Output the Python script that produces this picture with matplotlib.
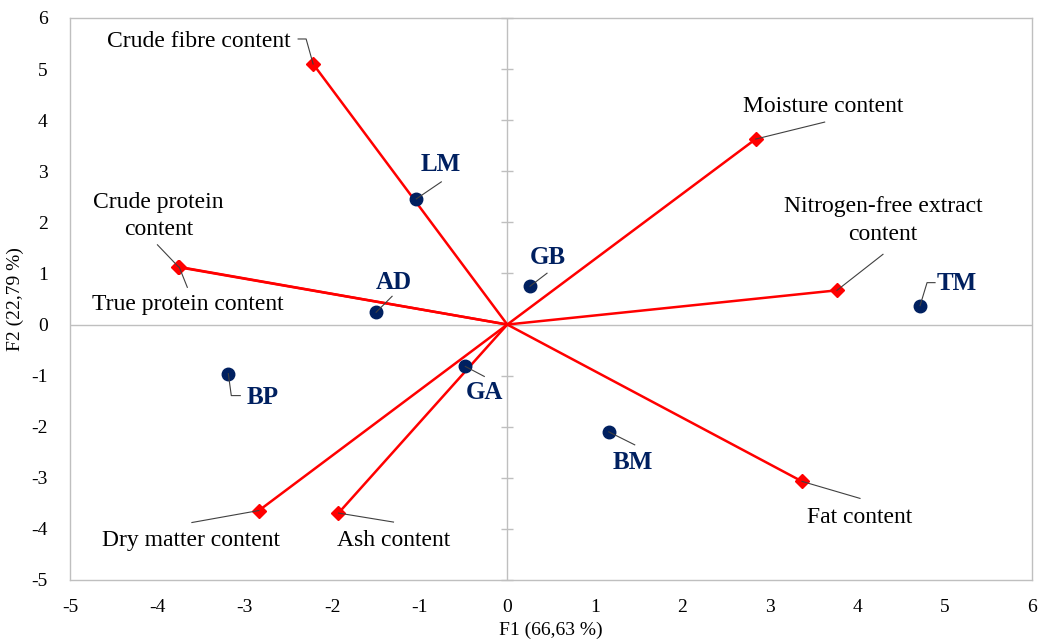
import matplotlib
matplotlib.use("Agg")
import matplotlib.pyplot as plt
import numpy as np

plt.rcParams['font.family'] = ['Liberation Serif', 'DejaVu Serif']

# Variables (loadings, red diamonds)
var_names = ["Crude fibre content", "Moisture content", "Crude protein\ncontent",
             "True protein content", "Nitrogen-free extract\ncontent", "Fat content",
             "Dry matter content", "Ash content"]
var_f1 = [-2.22, 2.84, -3.76, -3.75, 3.77, 3.37, -2.84, -1.93]
var_f2 = [5.10, 3.63, 1.13, 1.12, 0.67, -3.07, -3.64, -3.69]

# Observations (blue dots)
obs_names = ["LM", "AD", "GB", "TM", "BP", "GA", "BM"]
obs_f1 = [-1.04, -1.50, 0.26, 4.72, -3.19, -0.48, 1.16]
obs_f2 = [2.46, 0.24, 0.75, 0.37, -0.96, -0.82, -2.10]

xticks = list(range(-5, 7))
yticks = list(range(-5, 7))

# label layout: offsets in image pixels (dx right, dy down)
var_label_off = [(-114, -22), (68, -33), (-20, -51), (8, 37), (46, -70), (58, 36), (-68, 30), (55, 27)]
var_leader = [[(0, 0), (-7, -25), (-15, -25)], [(0, 0), (69, -17)], [(0, 0), (-21, -22)],
              [(0, 0), (8, 20)], [(0, 0), (46, -36)], [(0, 0), (58, 17)], [(0, 0), (-67, 12)],
              [(0, 0), (55, 9)]]
obs_label_off = [(24, -34), (18, -30), (18, -29), (37, -22), (34, 24), (19, 26), (24, 31)]
obs_leader = [[(0, 0), (25, -17)], [(0, 0), (16, -16)], [(0, 0), (17, -13)],
              [(0, 0), (7, -23), (15, -23)], [(0, 0), (3, 22), (12, 22)],
              [(0, 0), (19, 10)], [(0, 0), (26, 13)]]

fig = plt.figure(figsize=(10.4, 6.43), dpi=100)
ax = fig.add_axes([70 / 1040, 1 - 580 / 643, 962 / 1040, 562 / 643])
ax.set_xlim(-5, 6)
ax.set_ylim(-5, 6)

gray = "#BFBFBF"
for s in ax.spines.values():
    s.set_color(gray)
    s.set_linewidth(1.0)
ax.axhline(0, color=gray, lw=1.0, zorder=1)
ax.axvline(0, color=gray, lw=1.0, zorder=1)
ax.plot([0] * len(yticks), yticks, ls='none', marker='_', ms=9, mew=1.0, color=gray, zorder=1,
        clip_on=False)

ax.set_xticks(xticks)
ax.set_yticks(yticks)
ax.set_xticklabels([str(t) for t in xticks])
ax.set_yticklabels([str(t) for t in yticks])
ax.tick_params(axis='both', length=0, labelsize=14)
ax.tick_params(axis='x', pad=14)
ax.tick_params(axis='y', pad=16)
ax.set_xlabel("F1 (66,63 %)", fontsize=14, labelpad=4)
ax.set_ylabel("F2 (22,79 %)", fontsize=14, labelpad=5)

red = "#FF0000"
navy = "#002060"

# vectors
for x, y in zip(var_f1, var_f2):
    ax.plot([0, x], [0, y], color=red, lw=1.8, zorder=3, solid_capstyle='butt')
ax.plot(var_f1, var_f2, ls='none', marker='D', ms=7, color=red, zorder=4)
ax.plot(obs_f1, obs_f2, ls='none', marker='o', ms=9, color=navy, zorder=5)

fig.canvas.draw()
toData = ax.transData.inverted()


def pix_to_data(x, y, dx, dy):
    px, py = ax.transData.transform((x, y))
    return toData.transform((px + dx, py - dy))


def leader(x, y, verts):
    pts = np.array([pix_to_data(x, y, dx, dy) for dx, dy in verts])
    ax.plot(pts[:, 0], pts[:, 1], color="#404040", lw=0.8, zorder=6)


for name, x, y, off, lv in zip(var_names, var_f1, var_f2, var_label_off, var_leader):
    leader(x, y, lv)
    ax.annotate(name, (x, y), xytext=(off[0], -off[1]), textcoords='offset pixels',
                ha='center', va='center', fontsize=17, color='black', linespacing=1.4)

for name, x, y, off, lv in zip(obs_names, obs_f1, obs_f2, obs_label_off, obs_leader):
    leader(x, y, lv)
    ax.annotate(name, (x, y), xytext=(off[0], -off[1]), textcoords='offset pixels',
                ha='center', va='center', fontsize=18, fontweight='bold', color=navy)

fig.savefig("out.png", dpi=100)
